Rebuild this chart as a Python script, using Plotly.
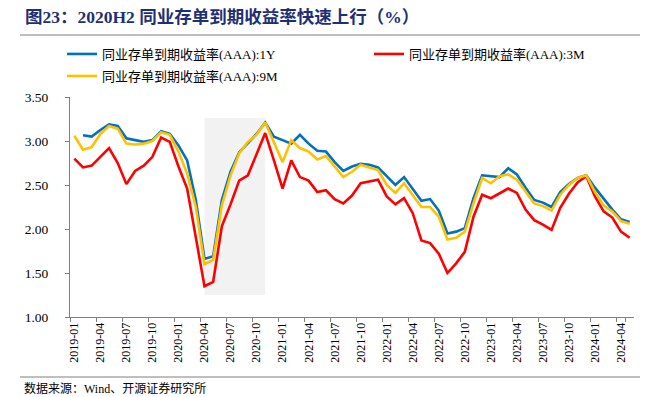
import plotly.graph_objects as go

months = [f"{y}-{m:02d}" for y in range(2019, 2025) for m in range(1, 13)][:65]

y1 = [None, 3.065, 3.05, 3.125, 3.19, 3.17, 3.03, 3.01, 2.99, 3.01, 3.11, 3.08, 2.95,
      2.78, 2.33, 1.66, 1.69, 2.33, 2.65, 2.87, 2.98, 3.08, 3.21, 3.05, 3.01, 2.97,
      3.07, 2.97, 2.89, 2.88, 2.76, 2.66, 2.71, 2.74, 2.73, 2.70, 2.60, 2.50, 2.59,
      2.45, 2.32, 2.34, 2.21, 1.95, 1.97, 2.01, 2.35, 2.61, 2.60, 2.59, 2.69, 2.62,
      2.47, 2.33, 2.30, 2.25, 2.42, 2.51, 2.58, 2.61, 2.47, 2.34, 2.22, 2.11, 2.08]

m3 = [2.80, 2.70, 2.72, 2.82, 2.92, 2.75, 2.51, 2.66, 2.72, 2.82, 3.04, 2.99, 2.71,
      2.46, 1.92, 1.35, 1.40, 2.03, 2.28, 2.55, 2.61, 2.86, 3.09, 2.78, 2.46, 2.78,
      2.59, 2.55, 2.42, 2.44, 2.34, 2.29, 2.38, 2.52, 2.54, 2.56, 2.37, 2.28, 2.35,
      2.18, 1.87, 1.84, 1.72, 1.50, 1.61, 1.74, 2.14, 2.39, 2.35, 2.41, 2.46, 2.41,
      2.22, 2.10, 2.05, 1.99, 2.24, 2.40, 2.53, 2.60, 2.37, 2.20, 2.13, 1.97, 1.90]

m9 = [3.06, 2.90, 2.93, 3.08, 3.17, 3.14, 2.97, 2.96, 2.97, 3.00, 3.10, 3.07, 2.88,
      2.63, 2.25, 1.60, 1.65, 2.27, 2.61, 2.86, 2.99, 3.07, 3.21, 2.98, 2.76, 3.01,
      2.92, 2.88, 2.79, 2.83, 2.71, 2.59, 2.65, 2.73, 2.70, 2.67, 2.50, 2.41, 2.52,
      2.39, 2.25, 2.25, 2.14, 1.88, 1.90, 1.97, 2.29, 2.58, 2.52, 2.60, 2.62, 2.56,
      2.42, 2.29, 2.26, 2.21, 2.39, 2.50, 2.58, 2.61, 2.42, 2.27, 2.20, 2.09, 2.06]

names = ["同业存单到期收益率(AAA):1Y", "同业存单到期收益率(AAA):3M", "同业存单到期收益率(AAA):9M"]
colors = ["#0070C0", "#FF0000", "#FFC000"]
legends = ["legend", "legend", "legend2"]
shade_start, shade_end = "2020-04", "2020-11"
yticks = [1.0, 1.5, 2.0, 2.5, 3.0, 3.5]

FONT = "Liberation Serif, Noto Sans CJK SC, serif"

# plot area in pixels
L, R, T, B = 70, 634, 97, 317
W, H = 657, 397
def px(x):
    return (x - L) / (R - L)
def py(y):
    return (B - y) / (B - T)

fig = go.Figure()
for name, data, c, lg in zip(names, [y1, m3, m9], colors, legends):
    fig.add_trace(go.Scatter(x=months, y=data, name=name, mode="lines", legend=lg,
                             line=dict(color=c, width=2.6), connectgaps=False))

fig.add_shape(type="rect", xref="x", yref="y",
              x0=months.index(shade_start), x1=months.index(shade_end),
              y0=1.25, y1=3.26, fillcolor="#F2F2F2", line_width=0, layer="below")

# title underline and source line
fig.add_shape(type="line", xref="paper", yref="paper", x0=px(20), x1=px(640),
              y0=py(35), y1=py(35), line=dict(color="#7F7F7F", width=1))
fig.add_shape(type="line", xref="paper", yref="paper", x0=px(20), x1=px(640),
              y0=py(377), y1=py(377), line=dict(color="#7F7F7F", width=1))

fig.add_annotation(text="数据来源：Wind、开源证券研究所", xref="paper", yref="paper",
                   x=px(22), y=py(388), xanchor="left", yanchor="middle", showarrow=False,
                   font=dict(family=FONT, size=12, color="#000000"))

legend_common = dict(orientation="h", xanchor="left", yanchor="top",
                     entrywidth=262, entrywidthmode="pixels", itemwidth=30,
                     font=dict(family=FONT, size=13, color="#000000"),
                     bgcolor="rgba(0,0,0,0)")

fig.update_layout(
    width=W, height=H,
    margin=dict(l=L, r=W - R, t=T, b=H - B, pad=0, autoexpand=False),
    paper_bgcolor="white", plot_bgcolor="white",
    font=dict(family=FONT, size=13, color="#000000"),
    title=dict(text="<b>图23：2020H2 同业存单到期收益率快速上行（%）</b>",
               xref="container", yref="container", x=25 / W, y=1 - 17 / H,
               xanchor="left", yanchor="middle", automargin=False,
               font=dict(family=FONT, size=17.5, color="#1F2F75")),
    showlegend=True,
    legend=dict(x=px(62), y=py(39), **legend_common),
    legend2=dict(x=px(62), y=py(61), **legend_common),
    xaxis=dict(type="category", categoryorder="array", categoryarray=months,
               range=[-0.5, len(months) - 0.5], tickmode="array",
               tickvals=months[::3], ticktext=months[::3], tickson="boundaries",
               tickangle=-90, ticks="outside", ticklen=4, tickcolor="#808080",
               showline=True, linecolor="#808080", linewidth=1, showgrid=False,
               automargin=False,
               tickfont=dict(family=FONT, size=12, color="#000000")),
    yaxis=dict(range=[1.0, 3.5], tickvals=yticks, ticktext=[f"{v:.2f}" for v in yticks],
               ticks="outside", ticklen=4, tickcolor="#808080",
               showline=True, linecolor="#808080", linewidth=1, showgrid=False,
               zeroline=False, ticklabelstandoff=14, automargin=False,
               tickfont=dict(family=FONT, size=13.5, color="#000000")),
)

fig.write_html("out.html", config={"displayModeBar": False},
               post_script="document.body.style.margin='0';document.body.style.padding='0';")
